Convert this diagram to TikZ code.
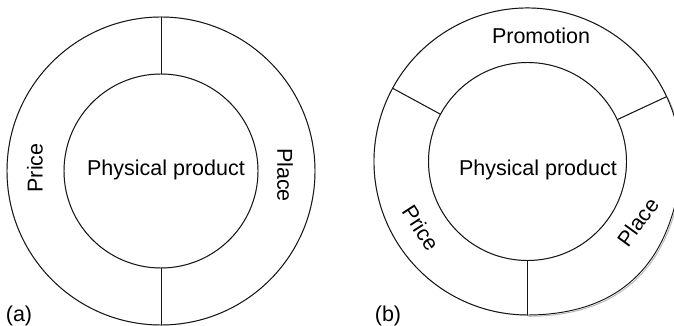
\documentclass[tikz,border=0pt]{standalone}
\usepackage{fontspec}
\setmainfont{Liberation Sans}
\begin{document}
\begin{tikzpicture}[x=1pt,y=1pt,
  ringline/.style={line width=0.95pt, line cap=round},
  lbl/.style={font=\fontsize{21.5}{25}\selectfont, inner sep=0pt}]
\useasboundingbox (0,0) rectangle (674,326);
\clip (0,0) rectangle (674,326);
% centres of the two rings
\coordinate (ca) at (161,155);
\coordinate (cb) at (527.5,164.5);
% all strokes of both rings; drawn twice (grey offset shadow, then black)
\def\rings{%
  % (a): two halves
  \draw[ringline] (ca) circle[radius=154];
  \draw[ringline] (ca) circle[radius=97];
  \draw[ringline] ([shift={(90:97)}]ca) -- ([shift={(90:154)}]ca);
  \draw[ringline] ([shift={(270:97)}]ca) -- ([shift={(270:154)}]ca);
  % (b): three segments, the Place segment slightly swollen
  \draw[ringline] (cb) circle[radius=99];
  \draw[ringline] ([shift={(25:153.5)}]cb) arc[start angle=25, end angle=270, radius=153.5];
  \draw[ringline] plot[domain=270:385, samples=90, variable=\t]
    ({527.5+(153.5+5*(max(0,cos((\t-310)*2.25)))^2)*cos(\t)},
     {164.5+(153.5+5*(max(0,cos((\t-310)*2.25)))^2)*sin(\t)});
  \draw[ringline] ([shift={(25:99)}]cb) -- ([shift={(25:153.5)}]cb);
  \draw[ringline] ([shift={(151.5:99)}]cb) -- ([shift={(151.5:153.5)}]cb);
  \draw[ringline] ([shift={(270:99)}]cb) -- ([shift={(270:153.5)}]cb);
}
\begin{scope}[shift={(1.3,-1.3)}, color=black!28]
  \rings
\end{scope}
\begin{scope}[color=black!92]
  \rings
\end{scope}
% labels of (a)
\node[lbl] (prodA)  at (166,156) {Physical product};
\node[lbl, rotate=90]  (priceA) at (35,158) {Price};
\node[lbl, rotate=-90] (placeA) at (285,151) {Place};
\node[lbl] (tagA) at (19,10) {(a)};
% labels of (b)
\node[lbl] (prodB)  at (538,156) {Physical product};
\node[lbl] (promoB) at (541,290) {Promotion};
\node[lbl, rotate=-57] (priceB) at (421,98) {Price};
\node[lbl, rotate=54]  (placeB) at (638,104) {Place};
\node[lbl] (tagB) at (388,10) {(b)};
\end{tikzpicture}
\end{document}
